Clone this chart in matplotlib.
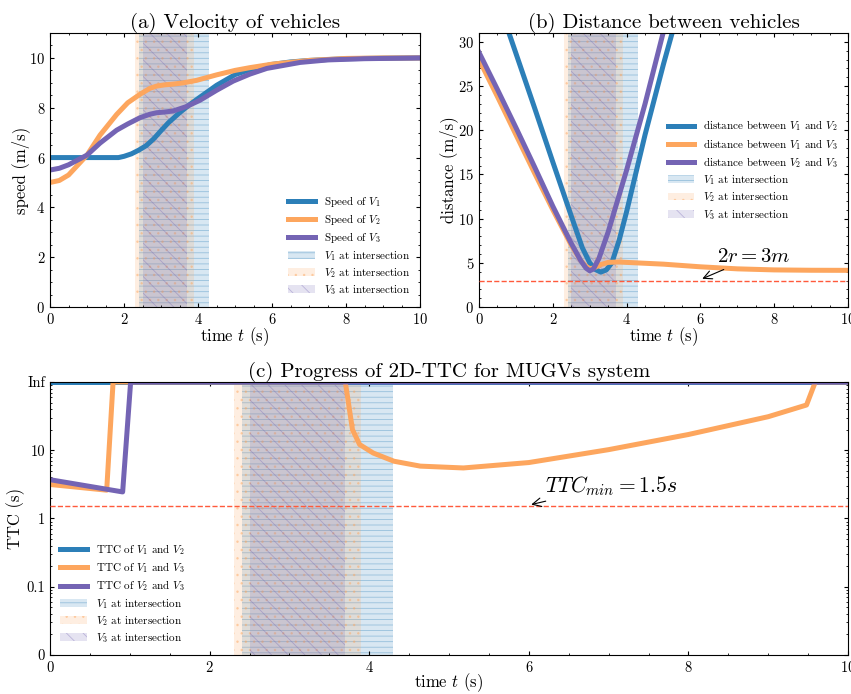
import numpy as np
import matplotlib.pyplot as plt
from matplotlib.patches import Patch
from matplotlib.colors import to_rgba
from matplotlib.ticker import AutoMinorLocator, LogLocator, NullFormatter

plt.rcParams.update({
    "font.family": "serif",
    "font.serif": ["cmr10"],
    "mathtext.fontset": "cm",
    "axes.formatter.use_mathtext": True,
    "xtick.direction": "in",
    "ytick.direction": "in",
    "xtick.top": True,
    "ytick.right": True,
    "xtick.major.size": 3,
    "ytick.major.size": 3,
    "xtick.minor.size": 1.5,
    "ytick.minor.size": 1.5,
    "xtick.minor.visible": True,
    "ytick.minor.visible": True,
    "axes.linewidth": 0.8,
    "hatch.linewidth": 0.6,
})

# colores
C1 = "#2c7fb8"
C2 = "#fda65e"
C3 = "#7464b4"
ROJO = "#ff5a3c"

# intervalos en la interseccion (s)
t_int_v1 = (2.4, 4.3)
t_int_v2 = (2.3, 3.9)
t_int_v3 = (2.5, 3.7)

# (a) velocidades
t_v1 = [0, 0.5, 1.0, 1.5, 1.85, 2.0, 2.2, 2.4, 2.6, 2.8, 3.0, 3.2, 3.5, 3.75, 4.0, 4.5, 5.0, 5.5, 6.0, 6.5, 7.0, 8.0, 9.0, 10]
v1 = [6, 6, 6, 6, 6.0, 6.05, 6.15, 6.3, 6.48, 6.75, 7.08, 7.4, 7.8, 8.1, 8.37, 8.9, 9.33, 9.58, 9.74, 9.84, 9.9, 9.97, 9.99, 10]
t_v2 = [0, 0.25, 0.5, 1.0, 1.35, 1.8, 2.1, 2.43, 2.7, 2.88, 3.1, 3.33, 3.6, 3.96, 4.5, 5.0, 5.4, 6.0, 7.0, 8.0, 9.0, 10]
v2 = [5.0, 5.08, 5.3, 6.1, 6.9, 7.73, 8.2, 8.54, 8.78, 8.87, 8.92, 8.95, 9.0, 9.1, 9.32, 9.5, 9.61, 9.75, 9.9, 9.98, 10, 10]
t_v3 = [0, 0.25, 0.5, 1.0, 1.35, 1.8, 2.1, 2.43, 2.7, 2.88, 3.1, 3.33, 3.69, 4.05, 4.5, 4.95, 5.4, 5.86, 6.76, 7.5, 8.5, 10]
v3 = [5.5, 5.57, 5.71, 6.1, 6.58, 7.1, 7.35, 7.6, 7.74, 7.8, 7.83, 7.87, 8.05, 8.3, 8.7, 9.07, 9.35, 9.58, 9.82, 9.92, 9.97, 10]

# (b) distancias
t_d12 = [0, 0.5, 1.0, 1.5, 2.0, 2.5, 2.8, 3.0, 3.15, 3.3, 3.45, 3.6, 3.8, 4.0, 4.5, 5.0, 5.5]
d12 = [40.9, 34.8, 28.7, 22.6, 16.4, 10.3, 6.7, 5.0, 4.25, 3.95, 4.2, 5.0, 7.6, 10.8, 19.5, 27.5, 35]
t_d13 = [0, 0.5, 1.0, 1.5, 2.0, 2.5, 2.75, 2.9, 3.0, 3.1, 3.3, 3.5, 3.8, 4.0, 5.0, 6.0, 7.0, 8.0, 9.0, 10]
d13 = [28.0, 23.8, 19.5, 15.2, 11.0, 7.0, 5.3, 4.6, 4.35, 4.4, 4.8, 5.05, 5.1, 5.05, 4.85, 4.55, 4.32, 4.2, 4.16, 4.15]
t_d23 = [0, 0.5, 1.0, 1.5, 2.0, 2.5, 2.75, 2.9, 3.0, 3.1, 3.25, 3.5, 4.0, 4.5, 5.0, 5.3]
d23 = [28.8, 24.6, 20.3, 15.9, 11.4, 7.2, 5.3, 4.4, 4.1, 4.3, 5.5, 8.5, 15.5, 23.0, 31.2, 36]

# (c) TTC; "Inf" se dibuja en el tope del eje log
INF = 100
t_ttc12 = [0, 10]
ttc12 = [INF, INF]
t_ttc13 = [0, 0.71, 0.79, 3.70, 3.79, 3.88, 4.05, 4.31, 4.64, 5.18, 6.0, 7.0, 8.0, 9.0, 9.48, 9.59, 10]
ttc13 = [3.15, 2.6, INF, INF, 20, 12.1, 9.1, 6.9, 5.85, 5.5, 6.6, 10.2, 17, 31, 46, INF, INF]
t_ttc23 = [0, 0.91, 1.01, 10]
ttc23 = [3.7, 2.45, INF, INF]

ttc_ticks = [0.01, 0.1, 1, 10, 100]
ttc_labels = ["0", "0.1", "1", "10", "Inf"]


def sombrear(ax):
    spans = [(t_int_v1, C1, "---", r"$V_1$ at intersection"),
             (t_int_v2, C2, "..", r"$V_2$ at intersection"),
             (t_int_v3, C3, "\\\\", r"$V_3$ at intersection")]
    handles = []
    for (a, b), c, h, lab in spans:
        fc = to_rgba(c, 0.18)
        ec = to_rgba(c, 0.38)
        ax.axvspan(a, b, facecolor=fc, edgecolor=ec, hatch=h, lw=0, zorder=1)
        handles.append(Patch(facecolor=fc, edgecolor=ec, hatch=h, lw=0, label=lab))
    return handles


fig = plt.figure(figsize=(8.51, 6.94), dpi=100)
ax1 = fig.add_axes([0.0588, 0.5576, 0.4348, 0.3948])
ax2 = fig.add_axes([0.5629, 0.5576, 0.4336, 0.3948])
ax3 = fig.add_axes([0.0588, 0.0562, 0.9377, 0.3934])

LW = 3.6
TIT = 15
LAB = 12
LEG = dict(fontsize=8, frameon=False, handlelength=2.4, labelspacing=0.3)

# (a)
hs = sombrear(ax1)
l1, = ax1.plot(t_v1, v1, color=C1, lw=LW, label=r"Speed of $V_1$", zorder=2)
l2, = ax1.plot(t_v2, v2, color=C2, lw=LW, label=r"Speed of $V_2$", zorder=2)
l3, = ax1.plot(t_v3, v3, color=C3, lw=LW, label=r"Speed of $V_3$", zorder=2)
ax1.set_xlim(0, 10)
ax1.set_ylim(0, 11)
ax1.set_title("(a) Velocity of vehicles", fontsize=TIT, pad=2)
ax1.set_xlabel(r"time $t$ (s)", fontsize=LAB, labelpad=-1)
ax1.set_ylabel("speed (m/s)", fontsize=LAB, labelpad=-0.5)
ax1.legend(handles=[l1, l2, l3] + hs, loc="lower right", **LEG)

# (b)
hs = sombrear(ax2)
l1, = ax2.plot(t_d12, d12, color=C1, lw=LW, label=r"distance between $V_1$ and $V_2$", zorder=2)
l2, = ax2.plot(t_d13, d13, color=C2, lw=LW, label=r"distance between $V_1$ and $V_3$", zorder=2)
l3, = ax2.plot(t_d23, d23, color=C3, lw=LW, label=r"distance between $V_2$ and $V_3$", zorder=2)
ax2.axhline(3, color=ROJO, ls="--", lw=1.0, zorder=3)
ax2.annotate(r"$2r=3m$", xy=(6.05, 3.2), xytext=(6.45, 5.7), fontsize=15,
             ha="left", va="center",
             arrowprops=dict(arrowstyle="->", color="black", lw=0.8, shrinkA=2, shrinkB=0))
ax2.set_xlim(0, 10)
ax2.set_ylim(0, 31)
ax2.set_title("(b) Distance between vehicles", fontsize=TIT, pad=2)
ax2.set_xlabel(r"time $t$ (s)", fontsize=LAB, labelpad=-1)
ax2.set_ylabel("distance (m/s)", fontsize=LAB, labelpad=0)
ax2.legend(handles=[l1, l2, l3] + hs, loc="center right", **LEG)

# (c)
hs = sombrear(ax3)
l1, = ax3.plot(t_ttc12, ttc12, color=C1, lw=LW, label=r"TTC of $V_1$ and $V_2$", zorder=2)
l2, = ax3.plot(t_ttc13, ttc13, color=C2, lw=LW, label=r"TTC of $V_1$ and $V_3$", zorder=2)
l3, = ax3.plot(t_ttc23, ttc23, color=C3, lw=LW, label=r"TTC of $V_2$ and $V_3$", zorder=2)
ax3.axhline(1.5, color=ROJO, ls="--", lw=1.0, zorder=3)
ax3.annotate(r"$TTC_{min}=1.5s$", xy=(6.03, 1.6), xytext=(6.2, 3.0), fontsize=15.5,
             ha="left", va="center",
             arrowprops=dict(arrowstyle="->", color="black", lw=0.8, shrinkA=2, shrinkB=0))
ax3.set_yscale("log")
ax3.set_xlim(0, 10)
ax3.set_ylim(0.01, 100)
ax3.set_yticks(ttc_ticks)
ax3.set_yticklabels(ttc_labels)
ax3.yaxis.set_minor_locator(LogLocator(base=10, subs=np.arange(2, 10)))
ax3.yaxis.set_minor_formatter(NullFormatter())
ax3.set_title("(c) Progress of 2D-TTC for MUGVs system", fontsize=TIT, pad=2)
ax3.set_xlabel(r"time $t$ (s)", fontsize=LAB, labelpad=-2.5)
ax3.set_ylabel("TTC (s)", fontsize=LAB, labelpad=1)
ax3.legend(handles=[l1, l2, l3] + hs, loc="lower left", **LEG)

for ax in (ax1, ax2, ax3):
    ax.xaxis.set_minor_locator(AutoMinorLocator(4))
    ax.tick_params(labelsize=10.5)
ax1.yaxis.set_minor_locator(AutoMinorLocator(4))
ax2.yaxis.set_minor_locator(AutoMinorLocator(5))

fig.savefig("out.png", dpi=100)
